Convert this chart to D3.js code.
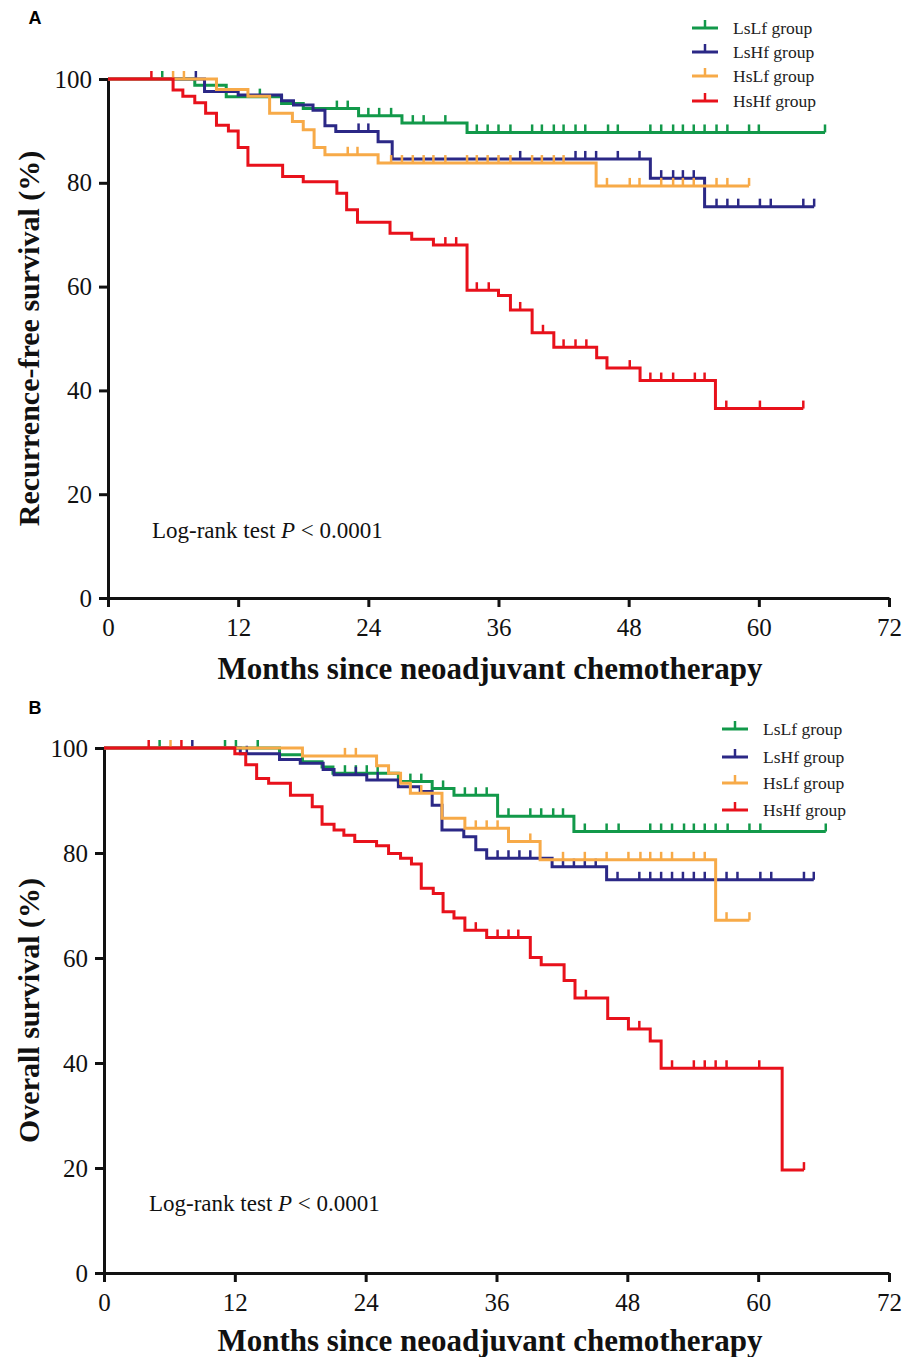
<!DOCTYPE html>
<html>
<head>
<meta charset="utf-8">
<script src="https://cdn.jsdelivr.net/npm/d3@7"></script>
<style>
  body { margin: 0; background: #fff; }
  svg { display: block; }
  .tick text { font-family: "Liberation Serif", "Times New Roman", serif; }
</style>
</head>
<body>
<svg id="chart" width="917" height="1357"></svg>
<script>
// groups, in legend order
var groups = ["LsLf group", "LsHf group", "HsLf group", "HsHf group"];
var colors = ["#12994a", "#2b2886", "#f7aa48", "#e8111b"];
var xTicks = [0, 12, 24, 36, 48, 60, 72];
var yTicks = [0, 20, 40, 60, 80, 100];

// panel A : recurrence-free survival, [month, survival %] at each drop
var rfsLsLfSteps = [[0,100],[8.0,98.8],[10.9,96.6],[16.0,95.3],[18.0,94.3],[23.1,92.9],[27.1,91.5],[33.1,89.7]];
var rfsLsLfCens = [5.0,14.0,21.1,22.1,24.0,25.0,26.1,28.1,29.1,31.1,34.0,35.0,36.0,37.1,39.1,40.0,41.1,42.0,43.1,44.0,46.1,47.0,50.0,51.0,52.1,53.0,54.0,55.0,56.1,57.1,59.1,60.0,66.1];
var rfsLsHfSteps = [[0,100],[8.9,97.6],[12.0,96.9],[16.0,95.8],[17.1,95.0],[18.9,94.0],[20.0,91.0],[21.0,89.9],[24.9,87.9],[26.2,84.6],[50.0,80.9],[55.0,75.4]];
var rfsLsHfCens = [8.1,23.1,24.0,38.0,43.1,44.0,45.0,47.0,49.0,51.0,52.1,53.0,54.0,56.1,57.1,58.1,60.1,61.1,64.1,65.1];
var rfsHsLfSteps = [[0,100],[10.0,98.0],[12.9,96.7],[14.9,93.4],[17.0,91.8],[18.0,90.2],[19.0,86.8],[20.0,85.4],[24.9,83.8],[45.0,79.4]];
var rfsHsLfCens = [6.0,7.0,22.1,23.0,26.1,27.1,28.1,29.1,30.0,31.1,33.1,34.0,35.0,36.0,37.1,39.1,40.0,41.1,42.0,46.0,48.1,49.0,51.0,52.1,53.0,54.0,56.1,57.1,59.1];
var rfsHsHfSteps = [[0,100],[6.0,97.9],[6.9,96.7],[8.0,95.4],[9.0,93.4],[10.0,91.1],[11.1,90.0],[12.0,86.8],[12.9,83.4],[16.1,81.2],[18.0,80.2],[21.1,78.0],[22.0,74.8],[23.0,72.4],[26.0,70.3],[28.0,69.1],[30.0,68.0],[33.1,59.3],[36.0,58.3],[37.1,55.5],[39.1,51.1],[41.1,48.3],[45.05,46.3],[46.0,44.3],[49.05,41.9],[56.0,36.5]];
var rfsHsHfCens = [4.0,31.1,32.1,34.0,35.1,38.0,40.1,42.0,43.1,44.1,48.1,50.0,51.0,52.1,54.1,55.0,57.0,60.1,64.1];

// panel B : overall survival
var osLsLfSteps = [[0,100],[16.1,98.7],[18.2,97.4],[20.0,96.4],[21.0,95.2],[27.0,93.6],[30.1,92.3],[32.1,91.0],[36.1,87.0],[43.1,84.1]];
var osLsLfCens = [5.1,11.1,12.1,14.1,22.1,23.1,24.1,25.1,28.1,29.1,31.1,33.1,34.1,35.1,37.1,39.1,40.1,41.2,42.1,44.1,46.1,47.2,50.1,51.1,52.1,53.2,54.1,55.1,56.1,57.2,59.2,60.2,66.2];
var osLsHfSteps = [[0,100],[12.5,98.9],[16.1,97.8],[18.0,97.1],[20.1,95.9],[21.1,94.9],[24.1,93.9],[27.0,92.6],[29.0,91.7],[30.1,89.1],[31.0,84.4],[33.0,83.1],[34.1,80.6],[35.1,79.0],[41.1,77.4],[46.1,74.9]];
var osLsHfCens = [8.1,13.1,23.1,25.1,36.1,37.1,38.1,39.1,42.1,43.1,44.1,45.1,47.1,49.1,50.1,51.1,52.1,53.1,54.1,55.1,57.1,58.1,60.2,61.2,64.2,65.1];
var osHsLfSteps = [[0,100],[18.2,98.5],[25.0,96.6],[26.1,95.2],[27.2,93.3],[28.1,91.4],[31.0,86.6],[33.1,84.7],[37.1,82.2],[40.0,78.7],[56.1,67.2]];
var osHsLfCens = [6.1,22.1,23.1,29.1,34.1,35.1,36.1,39.1,42.1,44.1,46.1,48.1,49.2,50.1,51.1,52.1,54.1,55.1,57.1,59.2];
var osHsHfSteps = [[0,100],[12.0,98.9],[13.0,96.8],[14.0,94.2],[15.1,93.3],[17.1,91.0],[19.1,88.8],[20.0,85.5],[21.1,84.4],[22.0,83.4],[23.0,82.2],[25.0,81.4],[26.1,79.9],[27.2,79.0],[28.2,77.9],[29.1,73.3],[30.2,72.3],[31.1,68.8],[32.1,67.6],[33.1,65.3],[35.1,63.9],[39.1,60.1],[40.1,58.7],[42.2,55.7],[43.2,52.4],[46.2,48.5],[48.1,46.5],[50.1,44.2],[51.1,39.0],[62.2,19.6]];
var osHsHfCens = [4.1,7.1,34.1,36.1,37.1,38.0,44.2,49.1,52.1,54.1,55.1,56.1,57.1,60.1,64.2];

var svg = d3.select("#chart");
var serif = "'Liberation Serif', 'Times New Roman', serif";

// survival value at time t for a step list
function survivalAt(steps, t) {
  var s = steps[0][1];
  steps.forEach(function(p) { if (p[0] <= t + 1e-9) s = p[1]; });
  return s;
}

function drawPanel(cfg) {
  var x = d3.scaleLinear().domain([0, 72]).range([cfg.left, cfg.right]);
  var y = d3.scaleLinear().domain([0, 100]).range([cfg.bottom, cfg.top]);
  var g = svg.append("g");

  // axes
  var xAxis = g.append("g")
    .attr("transform", "translate(0," + cfg.bottom + ")")
    .call(d3.axisBottom(x).tickValues(xTicks).tickSize(9).tickSizeOuter(0).tickPadding(11));
  var yAxis = g.append("g")
    .attr("transform", "translate(" + cfg.left + ",0)")
    .call(d3.axisLeft(y).tickValues(yTicks).tickSize(9).tickSizeOuter(0).tickPadding(7));
  [xAxis, yAxis].forEach(function(a) {
    a.select(".domain").attr("stroke", "#111").attr("stroke-width", 3);
    a.selectAll(".tick line").attr("stroke", "#111").attr("stroke-width", 3);
    a.selectAll(".tick text").attr("fill", "#111").style("font-size", "25px").style("font-family", serif);
  });

  var line = d3.line()
    .x(function(d) { return x(d[0]); })
    .y(function(d) { return y(d[1]); })
    .curve(d3.curveStepAfter);

  // curves, HsHf drawn last so it sits on top like the original
  cfg.series.forEach(function(s, i) {
    var ends = s.cens[s.cens.length - 1];
    var pts = s.steps.concat([[ends, survivalAt(s.steps, ends)]]);
    g.append("path")
      .attr("d", line(pts))
      .attr("fill", "none")
      .attr("stroke", colors[i])
      .attr("stroke-width", 3);
    g.selectAll(null)
      .data(s.cens)
      .enter().append("line")
        .attr("x1", function(t) { return x(t); })
        .attr("x2", function(t) { return x(t); })
        .attr("y1", function(t) { return y(survivalAt(s.steps, t)); })
        .attr("y2", function(t) { return y(survivalAt(s.steps, t)) - 8; })
        .attr("stroke", colors[i])
        .attr("stroke-width", 2.5);
  });

  // legend
  groups.forEach(function(name, i) {
    var ly = cfg.legendY[i];
    g.append("line")
      .attr("x1", cfg.legendX).attr("x2", cfg.legendX + 26)
      .attr("y1", ly).attr("y2", ly)
      .attr("stroke", colors[i]).attr("stroke-width", 3);
    g.append("line")
      .attr("x1", cfg.legendX + 13).attr("x2", cfg.legendX + 13)
      .attr("y1", ly).attr("y2", ly - 8)
      .attr("stroke", colors[i]).attr("stroke-width", 2.5);
    g.append("text")
      .attr("x", cfg.legendX + 41).attr("y", ly).attr("dy", "0.33em")
      .style("font-family", serif).style("font-size", "17.5px").attr("fill", "#222")
      .text(name);
  });

  // titles
  g.append("text")
    .attr("transform", "translate(" + cfg.yTitleX + "," + ((cfg.top + cfg.bottom) / 2) + ") rotate(-90)")
    .attr("text-anchor", "middle")
    .style("font-family", serif).style("font-size", "30px").style("font-weight", "bold")
    .attr("fill", "#111")
    .text(cfg.yTitle);
  g.append("text")
    .attr("x", 490).attr("y", cfg.xTitleY)
    .attr("text-anchor", "middle")
    .style("font-family", serif).style("font-size", "31px").style("font-weight", "bold")
    .attr("fill", "#111")
    .text("Months since neoadjuvant chemotherapy");

  var lr = g.append("text")
    .attr("x", cfg.logX).attr("y", cfg.logY)
    .style("font-family", serif).style("font-size", "23px").attr("fill", "#111");
  lr.append("tspan").text("Log-rank test ");
  lr.append("tspan").style("font-style", "italic").text("P");
  lr.append("tspan").text(" < 0.0001");

  svg.append("text")
    .attr("x", 35).attr("y", cfg.letterY)
    .attr("text-anchor", "middle")
    .style("font-family", "'Liberation Sans', Arial, sans-serif")
    .style("font-size", "18px").style("font-weight", "bold")
    .text(cfg.letter);
}

drawPanel({
  letter: "A", letterY: 24,
  left: 108, right: 889, top: 79, bottom: 598,
  yTitle: "Recurrence-free survival (%)", yTitleX: 39, xTitleY: 679,
  logX: 152, logY: 538,
  legendX: 692, legendY: [28, 52, 76, 101],
  series: [
    { steps: rfsLsLfSteps, cens: rfsLsLfCens },
    { steps: rfsLsHfSteps, cens: rfsLsHfCens },
    { steps: rfsHsLfSteps, cens: rfsHsLfCens },
    { steps: rfsHsHfSteps, cens: rfsHsHfCens }
  ]
});

drawPanel({
  letter: "B", letterY: 714,
  left: 104, right: 889, top: 748, bottom: 1273,
  yTitle: "Overall survival (%)", yTitleX: 39, xTitleY: 1351,
  logX: 149, logY: 1211,
  legendX: 722, legendY: [729, 757, 783, 810],
  series: [
    { steps: osLsLfSteps, cens: osLsLfCens },
    { steps: osLsHfSteps, cens: osLsHfCens },
    { steps: osHsLfSteps, cens: osHsLfCens },
    { steps: osHsHfSteps, cens: osHsHfCens }
  ]
});
</script>
</body>
</html>
